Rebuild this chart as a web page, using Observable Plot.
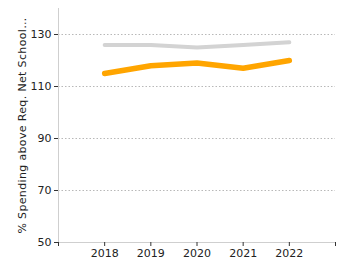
<!DOCTYPE html>
<html>
<head>
<meta charset="utf-8">
<script src="https://cdn.jsdelivr.net/npm/d3@7"></script>
<script src="https://cdn.jsdelivr.net/npm/@observablehq/plot@0.6"></script>
<style>
  body { margin: 0; background: #fff; }
  #chart g[aria-label="y-axis label"] text { letter-spacing: 0.35px; }
</style>
</head>
<body>
<div id="chart"></div>
<script>
// Years and the two series shown
const years = [2018, 2019, 2020, 2021, 2022];
const benchmark = [126, 126, 125, 126, 127];
const district = [115, 118, 119, 117, 120];

const yTicks = [50, 70, 90, 110, 130];
const xTicks = [2017, 2018, 2019, 2020, 2021, 2022, 2023];
const yLabel = "% Spending above Req. Net School…";

const benchRows = years.map((y, i) => ({year: y, value: benchmark[i]}));
const distRows = years.map((y, i) => ({year: y, value: district[i]}));

const chart = Plot.plot({
  width: 350,
  height: 275,
  marginLeft: 58,
  marginRight: 15,
  marginTop: 8,
  marginBottom: 33,
  style: {fontFamily: "DejaVu Sans, Verdana, sans-serif", fontSize: "11px", background: "#fff", color: "#222"},
  x: {domain: [2017, 2023]},
  y: {domain: [50, 140]},
  marks: [
    Plot.gridY([70, 90, 110, 130], {stroke: "#b8b8b8", strokeOpacity: 1, strokeDasharray: "1.5,2"}),
    Plot.ruleX([2017], {stroke: "#cfcfcf"}),
    Plot.ruleY([50], {stroke: "#cfcfcf"}),
    Plot.axisY({ticks: yTicks, tickSize: 4, tickPadding: 3, label: yLabel, labelAnchor: "center", labelArrow: "none", labelOffset: 40, stroke: "#333"}),
    Plot.axisX({ticks: xTicks, tickSize: 4, tickPadding: 3, tickFormat: d => (d >= 2018 && d <= 2022) ? String(d) : "", label: null, stroke: "#333"}),
    Plot.line(benchRows, {x: "year", y: "value", stroke: "#d3d3d3", strokeWidth: 4}),
    Plot.line(distRows, {x: "year", y: "value", stroke: "#ffa500", strokeWidth: 5.5})
  ]
});
document.getElementById("chart").appendChild(chart);
</script>
</body>
</html>
